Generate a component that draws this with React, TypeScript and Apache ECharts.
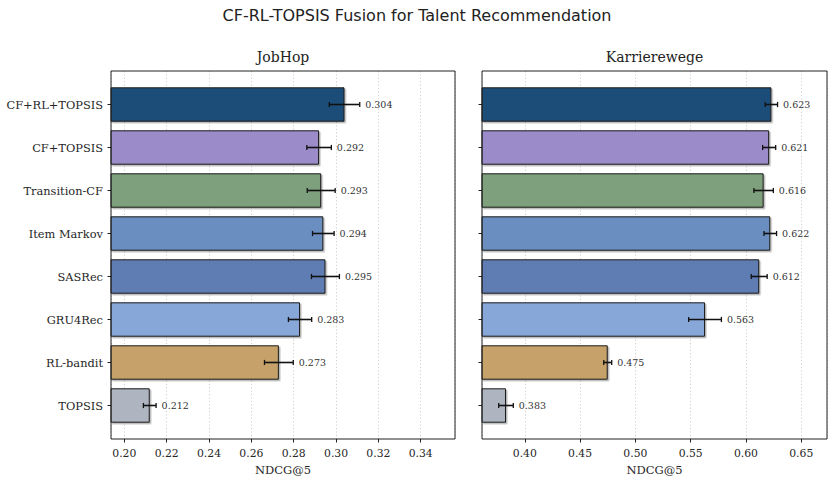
import React, { useEffect, useRef } from 'react';
import * as echarts from 'echarts';

const categories = ['CF+RL+TOPSIS', 'CF+TOPSIS', 'Transition-CF', 'Item Markov', 'SASRec', 'GRU4Rec', 'RL-bandit', 'TOPSIS'];
const barColors = ['#1f4e79', '#9b8bc9', '#7fa07b', '#6b8ebf', '#5f7db3', '#87a7d9', '#c6a26b', '#aeb5c1'];
const jobHopValues = [0.304, 0.292, 0.293, 0.294, 0.295, 0.283, 0.273, 0.212];
const jobHopErrors = [0.0072, 0.0058, 0.0066, 0.0051, 0.0066, 0.0055, 0.0068, 0.003];
const karriereValues = [0.623, 0.621, 0.616, 0.622, 0.612, 0.563, 0.475, 0.383];
const karriereErrors = [0.0056, 0.0059, 0.0088, 0.0057, 0.0072, 0.0148, 0.0036, 0.0066];
const panelTitles = ['JobHop', 'Karrierewege'];
const xAxisName = 'NDCG@5';
const mainTitle = 'CF-RL-TOPSIS Fusion for Talent Recommendation';

const SERIF = 'DejaVu Serif';
const SANS = 'DejaVu Sans';

function buildOption() {
  const panels = [
    { left: 111, width: 344, min: 0.1937, max: 0.3562, split: 8, values: jobHopValues, errors: jobHopErrors, title: panelTitles[0], showLabels: true },
    { left: 482, width: 345, min: 0.3613, max: 0.6733, split: 6, values: karriereValues, errors: karriereErrors, title: panelTitles[1], showLabels: false },
  ];
  const grid: any[] = [];
  const xAxis: any[] = [];
  const yAxis: any[] = [];
  const series: any[] = [];
  const graphic: any[] = [
    { type: 'text', x: 417, y: 15, style: { text: mainTitle, fontFamily: SANS, fontSize: 16, fill: '#222', textAlign: 'center', textVerticalAlign: 'middle' } },
  ];
  panels.forEach((p, i) => {
    const gFrame = i * 2;
    const gBars = i * 2 + 1;
    grid.push({ left: p.left, top: 71, width: p.width, height: 368, show: true, borderColor: '#222', borderWidth: 1, backgroundColor: 'transparent', z: 5 });
    grid.push({ left: p.left, top: 83, width: p.width, height: 344 });
    xAxis.push({
      type: 'value', gridIndex: gFrame, min: p.min, max: p.max, splitNumber: p.split,
      axisLine: { show: false },
      axisTick: { show: true, length: 3.5, lineStyle: { color: '#222', width: 1 } },
      axisLabel: { show: true, fontFamily: SERIF, fontSize: 10.8, color: '#262626', margin: 9, showMinLabel: false, showMaxLabel: false, formatter: (v: number) => v.toFixed(2) },
      splitLine: { show: true, lineStyle: { color: '#c4c4c4', type: [1.2, 2.2], width: 0.8 } },
      name: xAxisName, nameLocation: 'middle', nameGap: 25,
      nameTextStyle: { fontFamily: SERIF, fontSize: 11.5, color: '#262626' },
    });
    xAxis.push({ type: 'value', gridIndex: gBars, min: p.min, max: p.max, show: false, splitLine: { show: false } });
    yAxis.push({ type: 'value', gridIndex: gFrame, min: 0, max: 1, show: false, splitLine: { show: false } });
    yAxis.push({
      type: 'category', gridIndex: gBars, data: categories, inverse: true,
      axisLine: { show: false },
      axisTick: { show: true, alignWithLabel: true, length: 3.5, lineStyle: { color: '#222', width: 1 } },
      axisLabel: { show: p.showLabels, fontFamily: SERIF, fontSize: 11.4, color: '#262626', margin: 8 },
      splitLine: { show: false },
    });
    series.push({
      type: 'bar', xAxisIndex: gBars, yAxisIndex: gBars, barWidth: '80%',
      data: p.values.map((v, k) => ({
        value: v,
        itemStyle: {
          color: barColors[k], borderColor: '#1a1a1a', borderWidth: 1,
          shadowColor: 'rgba(0,0,0,0.28)', shadowOffsetX: 1.5, shadowOffsetY: 1.5, shadowBlur: 0,
        },
      })),
      z: 2,
    });
    series.push({
      type: 'custom', xAxisIndex: gBars, yAxisIndex: gBars, z: 4,
      data: p.values.map((v, k) => [v, k, p.errors[k]]),
      renderItem: (params: any, api: any) => {
        const v = api.value(0);
        const e = api.value(2);
        const idx = params.dataIndex;
        const a = api.coord([v - e, idx]);
        const b = api.coord([v + e, idx]);
        const y = a[1];
        const cap = 2.6;
        const st = { stroke: '#111', lineWidth: 1.6 };
        return {
          type: 'group',
          children: [
            { type: 'line', shape: { x1: a[0], y1: y, x2: b[0], y2: y }, style: st },
            { type: 'line', shape: { x1: a[0], y1: y - cap, x2: a[0], y2: y + cap }, style: { stroke: '#111', lineWidth: 1.3 } },
            { type: 'line', shape: { x1: b[0], y1: y - cap, x2: b[0], y2: y + cap }, style: { stroke: '#111', lineWidth: 1.3 } },
            { type: 'text', x: b[0] + 5.5, y: y, style: { text: Number(v).toFixed(3), fontFamily: SERIF, fontSize: 9.5, fill: '#333', textVerticalAlign: 'middle', textAlign: 'left' } },
          ],
        };
      },
    });
    graphic.push({ type: 'text', x: p.left + p.width / 2, y: 57, style: { text: p.title, fontFamily: SERIF, fontSize: 14, fill: '#222', textAlign: 'center', textVerticalAlign: 'middle' } });
  });
  return { animation: false, backgroundColor: '#ffffff', grid, xAxis, yAxis, series, graphic };
}

export default function App() {
  const ref = useRef<HTMLDivElement>(null);
  useEffect(() => {
    document.body.style.margin = '0';
    const chart = echarts.init(ref.current!, undefined, { renderer: 'svg' });
    chart.setOption(buildOption() as any);
    return () => chart.dispose();
  }, []);
  return <div ref={ref} style={{ width: 834, height: 484 }} />;
}
